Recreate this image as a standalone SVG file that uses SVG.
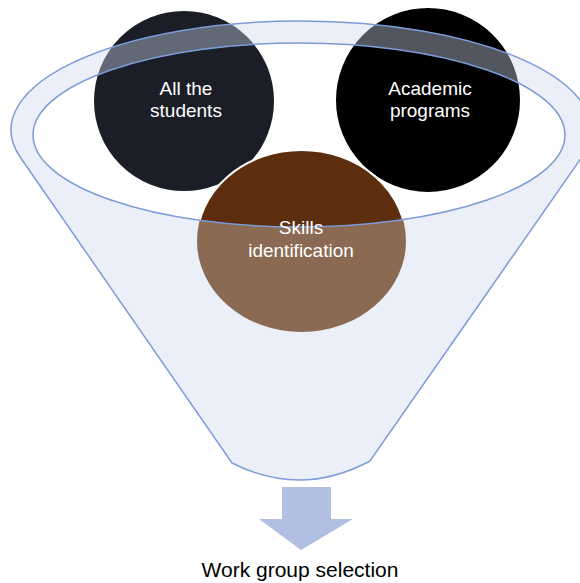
<svg xmlns="http://www.w3.org/2000/svg" width="580" height="583" viewBox="0 0 580 583">
<style>
.lbl{font-family:"Liberation Sans",Arial,sans-serif;font-size:19px;fill:#ffffff;text-anchor:middle}
.cap{font-family:"Liberation Sans",Arial,sans-serif;font-size:21px;fill:#000000;text-anchor:middle}
.circ{stroke:#ffffff;stroke-width:2}
.ffill{fill:#cdd6ec;fill-opacity:0.4;fill-rule:evenodd;stroke:none}
.fline{fill:none;stroke:#7b9bd9;stroke-width:1.5}
</style>
<defs>
<path id="fshape" d="M 20.6,157.7 A 290,109 0 1,1 581.4,157.7 L 370,461 Q 301,498 232,463 Z M 33,135 A 266,92 0 1,0 565,135 A 266,92 0 1,0 33,135 Z"/>
<clipPath id="fclip"><use href="#fshape" clip-rule="evenodd"/></clipPath>
</defs>
<rect width="580" height="583" fill="#ffffff"/>
<g id="students">
<circle class="circ" cx="184" cy="101" r="91" fill="#1b1e27"/>
</g>
<g id="programs">
<circle class="circ" cx="428" cy="100" r="93" fill="#000000"/>
</g>
<g id="skills">
<ellipse class="circ" cx="301.5" cy="241" rx="104.5" ry="91" fill="#5c2e0e"/>
</g>
<g id="funnel">
<use href="#fshape" class="ffill"/>
<ellipse cx="301.5" cy="241" rx="104.5" ry="91" fill="#8a6a52" clip-path="url(#fclip)"/>
<use href="#fshape" class="fline"/>
</g>
<g id="labels">
<text class="lbl" x="186" y="95">All the</text>
<text class="lbl" x="186" y="117">students</text>
<text class="lbl" x="430" y="95">Academic</text>
<text class="lbl" x="430" y="117">programs</text>
<text class="lbl" x="301" y="234">Skills</text>
<text class="lbl" x="301" y="257">identification</text>
</g>
<g id="connectors">
<path d="M 282,487 L 331,487 L 331,519 L 353,519 L 301,550 L 259,519 L 282,519 Z" fill="#b0bfe2"/>
</g>
<g id="output">
<text class="cap" x="300" y="577">Work group selection</text>
</g>
</svg>
